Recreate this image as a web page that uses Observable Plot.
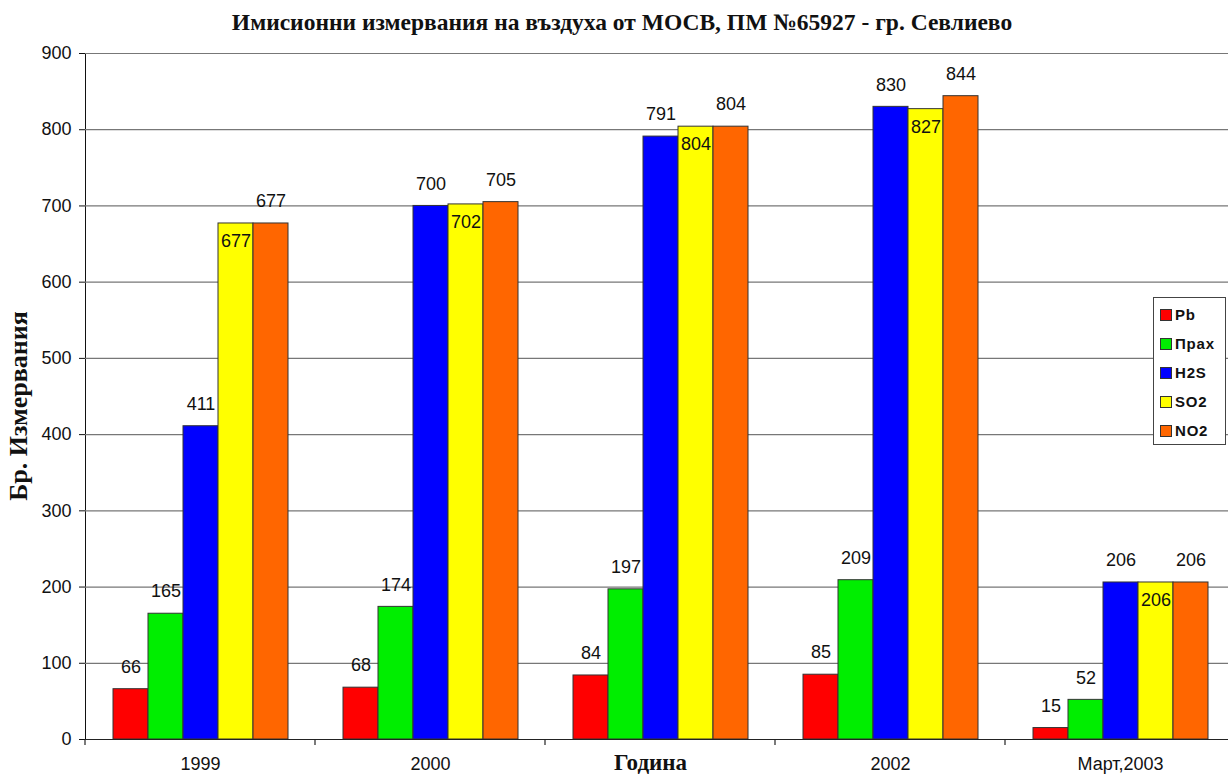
<!DOCTYPE html>
<html><head><meta charset="utf-8">
<script src="https://cdn.jsdelivr.net/npm/d3@7"></script>
<script src="https://cdn.jsdelivr.net/npm/@observablehq/plot@0.6"></script>
<style>
html,body{margin:0;padding:0;background:#fff;overflow:hidden;}
#wrap{position:relative;width:1228px;height:776px;overflow:hidden;}
#title{position:absolute;left:0;width:1244px;top:9px;line-height:30px;text-align:center;font:bold 23.5px "Liberation Serif","Times New Roman",serif;color:#111;white-space:nowrap;}
#chart{position:absolute;left:0;top:40px;}
#ylabel{position:absolute;left:19px;top:406px;transform:translate(-50%,-50%) rotate(-90deg);white-space:nowrap;font:bold 26px "Liberation Serif","Times New Roman",serif;color:#111;}
#legend{position:absolute;left:1153px;top:297px;width:73px;height:148px;border:1px solid #444;background:#fff;box-sizing:border-box;padding-top:2px;}
.li{height:29px;display:flex;align-items:center;padding-left:6px;font:bold 15px "Liberation Sans",Arial,sans-serif;letter-spacing:0.8px;color:#111;}
.sw{width:10px;height:10px;border:1px solid #333;margin-right:3px;flex:none;}
</style></head>
<body>
<div id="wrap">
  <div id="title"></div>
  <div id="chart"></div>
  <div id="ylabel"></div>
  <div id="legend"></div>
</div>
<script>
// ---- data ----
const years = ["1999", "2000", "2001", "2002", "Март,2003"];
const series = ["Pb", "Прах", "H2S", "SO2", "NO2"];
const pb   = [66, 68, 84, 85, 15];
const prah = [165, 174, 197, 209, 52];
const h2s  = [411, 700, 791, 830, 206];
const so2  = [677, 702, 804, 827, 206];
const no2  = [677, 705, 804, 844, 206];
const colors = ["#ff0000", "#00ee00", "#0000ff", "#ffff00", "#ff6600"];
const yTicks = [0, 100, 200, 300, 400, 500, 600, 700, 800, 900];
const xAxisTitle = "Година";
const yAxisTitle = "Бр. Измервания";
const titleText = "Имисионни измервания на въздуха от МОСВ, ПМ №65927 - гр. Севлиево";

const valuesBySeries = [pb, prah, h2s, so2, no2];
const data = years.flatMap((yr, i) => series.map((s, j) => ({year: yr, series: s, value: valuesBySeries[j][i]})));

document.getElementById("title").textContent = titleText;
document.getElementById("ylabel").textContent = yAxisTitle;

// boundary tick marks at the left edge of each category (Excel style)
function boundaryTicks(index, scales, values, dim) {
  const g = d3.create("svg:g");
  const yb = dim.height - dim.marginBottom;
  g.append("line")
    .attr("x1", dim.marginLeft).attr("x2", dim.marginLeft)
    .attr("y1", yb).attr("y2", yb + 6)
    .attr("stroke", "#222").attr("stroke-width", 1.2);
  return g.node();
}

const chart = Plot.plot({
  width: 1228,
  height: 736,
  marginLeft: 83,
  marginRight: -9,
  marginTop: 13,
  marginBottom: 37,
  style: {fontFamily: "'Liberation Sans', Arial, sans-serif", fontSize: "18px", color: "#111", background: "transparent", overflow: "visible"},
  fx: {domain: years, padding: 0, axis: "bottom", tickSize: 0, tickPadding: 18, label: null,
       tickFormat: d => d === "2001" ? xAxisTitle : d},
  x: {domain: series, paddingInner: 0, paddingOuter: 0.726, axis: null},
  y: {domain: [0, 900], ticks: yTicks, tickSize: 6, tickPadding: 8, line: true, label: null},
  color: {domain: series, range: colors},
  marks: [
    Plot.ruleY(yTicks.filter(t => t > 0), {stroke: "#777", strokeWidth: 1.2}),
    Plot.barY(data, {fx: "year", x: "series", y: "value", fill: "series", stroke: "#333", strokeWidth: 1}),
    Plot.ruleY([0], {stroke: "#222", strokeWidth: 1.2}),
    boundaryTicks,
    Plot.text(data.filter(d => d.series !== "SO2"), {fx: "year", x: "series", y: "value", text: d => String(d.value), dy: -22, fontSize: 18, fill: "#111"}),
    Plot.text(data.filter(d => d.series === "SO2"), {fx: "year", x: "series", y: "value", text: d => String(d.value), dy: 18, fontSize: 18, fill: "#111"})
  ]
});
document.getElementById("chart").appendChild(chart);

// style the axis title that sits in place of the middle category label
chart.querySelectorAll("text").forEach(t => {
  if (t.textContent.trim() === xAxisTitle) {
    t.style.setProperty("font-family", "'Liberation Serif','Times New Roman',serif", "important");
    t.style.setProperty("font-weight", "bold", "important");
    t.style.setProperty("font-size", "23px", "important");
    t.setAttribute("font-size", "23");
    t.setAttribute("dx", "-10");
    t.setAttribute("dy", "-4");
  }
});

// legend
const legend = document.getElementById("legend");
series.forEach((s, i) => {
  const row = document.createElement("div");
  row.className = "li";
  const sw = document.createElement("span");
  sw.className = "sw";
  sw.style.background = colors[i];
  row.appendChild(sw);
  row.appendChild(document.createTextNode(s));
  legend.appendChild(row);
});
</script>
</body></html>
